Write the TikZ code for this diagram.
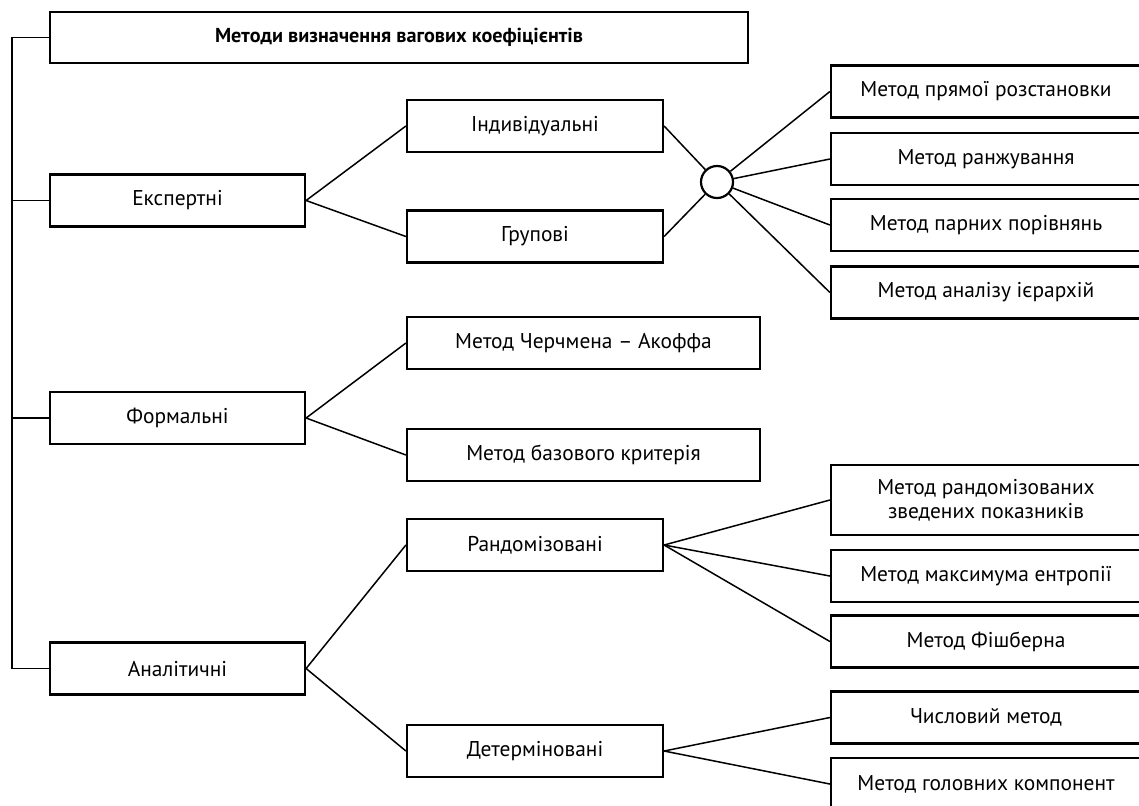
\documentclass[tikz,border=0pt]{standalone}
\usepackage{fontspec}
\setmainfont{PT Sans}
\usetikzlibrary{positioning}

\begin{document}
\begin{tikzpicture}[x=0.5pt,y=-0.5pt,
		box/.style={draw,line width=1.1pt,minimum height=26pt,inner sep=1pt,align=center,font=\fontsize{10.7}{12}\selectfont},
		lvlone/.style={box,minimum width=127.5pt},
		lvltwo/.style={box,minimum width=128pt},
		lvlwide/.style={box,minimum width=176.5pt},
		leaf/.style={box,minimum width=155pt},
		link/.style={line width=0.75pt}]
	% Page frame
	\useasboundingbox (0,0) rectangle (1139,805);
	
	% ROOT AND RAIL
	\node[box,minimum width=349pt,minimum height=25.5pt,font=\fontsize{10.1}{12}\bfseries] (root) at (399,37.5) {Методи визначення вагових коефіцієнтів};
	\coordinate (rail) at (12,0);
	
	% FIRST LEVEL
	\node[lvlone] (expert) at (177.5,200.5) {Експертні};
	\node[lvlone] (formal) at (177.5,418) {Формальні};
	\node[lvlone] (analyt) at (177.5,668.5) {Аналітичні};
	
	% SECOND LEVEL
	\node[lvltwo] (indiv) at (535,126) {Індивідуальні};
	\node[lvltwo] (group) at (535,236.5) {Групові};
	\node[lvlwide] (church) at (583.5,343) {Метод Черчмена – Акоффа};
	\node[lvlwide] (basecrit) at (583.5,455) {Метод базового критерія};
	\node[lvltwo] (random) at (535,545) {Рандомізовані};
	\node[lvltwo] (determ) at (535,751) {Детерміновані};
	
	% JOINT OF EXPERT METHODS
	\node[draw,circle,line width=1.1pt,minimum size=16pt,inner sep=0pt] (joint) at (717,182) {};
	
	% THIRD LEVEL
	\node[leaf] (direct) at (986,91.5) {Метод прямої розстановки};
	\node[leaf] (rank) at (986,159) {Метод ранжування};
	\node[leaf] (pairs) at (986,225) {Метод парних порівнянь};
	\node[leaf] (hierarchy) at (986,292.5) {Метод аналізу ієрархій};
	\node[leaf,minimum height=35pt] (randsum) at (986,500) {Метод рандомізованих\\зведених показників};
	\node[leaf] (entropy) at (986,576) {Метод максимума ентропії};
	\node[leaf] (fishburn) at (986,641.5) {Метод Фішберна};
	\node[leaf] (numeric) at (986,717.5) {Числовий метод};
	\node[leaf] (princomp) at (986,784) {Метод головних компонент};
	
	% RAIL CONNECTORS
	\draw[link] (root.west) -- (root.west -| rail) |- (analyt.west);
	\draw[link] (expert.west) -- (expert.west -| rail);
	\draw[link] (formal.west) -- (formal.west -| rail);
	
	% BRANCHES
	\draw[link] (indiv.west) -- (expert.east) -- (group.west);
	\draw[link] (church.west) -- (formal.east) -- (basecrit.west);
	\draw[link] (random.west) -- (analyt.east) -- (determ.west);
	\draw[link] (indiv.east) -- (joint);
	\draw[link] (group.east) -- (joint);
	\foreach \leafname in {direct,rank,pairs,hierarchy}
		\draw[link] (joint) -- (\leafname.west);
	\foreach \leafname in {randsum,entropy,fishburn}
		\draw[link] (random.east) -- (\leafname.west);
	\foreach \leafname in {numeric,princomp}
		\draw[link] (determ.east) -- (\leafname.west);
\end{tikzpicture}
\end{document}
